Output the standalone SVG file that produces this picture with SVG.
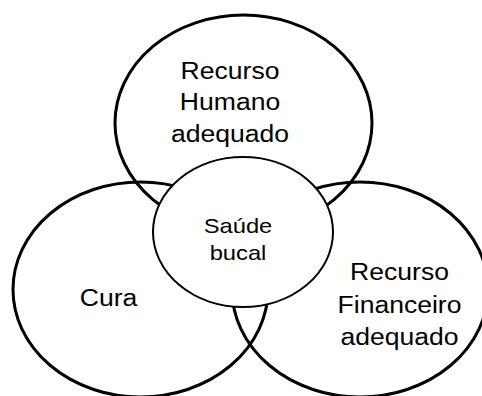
<svg xmlns="http://www.w3.org/2000/svg" width="482" height="396" viewBox="0 0 482 396">
<style>
.big{fill:none;stroke:#000;stroke-width:3}
.mid{fill:#fff;stroke:#000;stroke-width:2}
text{font-family:"Liberation Sans",Arial,sans-serif;fill:#000;text-anchor:middle}
.t{font-size:23.5px}
.c{font-size:21px}
</style>
<rect width="482" height="396" fill="#fff"/>
<g id="top"><ellipse class="big" cx="243.5" cy="123" rx="128.5" ry="108"/></g>
<g id="left"><ellipse class="big" cx="140.5" cy="289.5" rx="127.5" ry="107.5"/></g>
<g id="right"><ellipse class="big" cx="360" cy="289.5" rx="128" ry="107.5"/></g>
<g id="center"><ellipse class="mid" cx="243" cy="232" rx="90" ry="75"/></g>
<g id="labels">
<g transform="translate(230,0) scale(1.13,1)"><text class="t" x="0" y="79">Recurso</text><text class="t" x="0" y="110">Humano</text><text class="t" x="0" y="142">adequado</text></g>
<g transform="translate(238,0) scale(1.13,1)"><text class="c" x="0" y="233">Saúde</text><text class="c" x="0" y="260">bucal</text></g>
<g transform="translate(108.5,0) scale(1.13,1)"><text class="t" x="0" y="306">Cura</text></g>
<g transform="translate(399.5,0) scale(1.13,1)"><text class="t" x="0" y="280">Recurso</text><text class="t" x="0" y="313">Financeiro</text><text class="t" x="0" y="345">adequado</text></g>
</g>
</svg>
